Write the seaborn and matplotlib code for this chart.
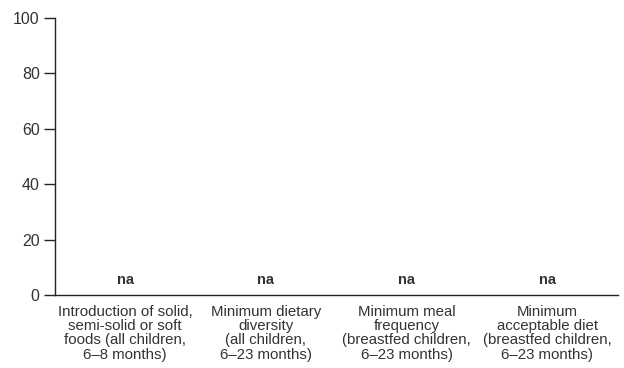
import numpy as np
import pandas as pd
import matplotlib
matplotlib.use("Agg")
import matplotlib.pyplot as plt
import seaborn as sns

categories = [
    "Introduction of solid,\nsemi-solid or soft\nfoods (all children,\n6\u20138 months)",
    "Minimum dietary\ndiversity\n(all children,\n6\u201323 months)",
    "Minimum meal\nfrequency\n(breastfed children,\n6\u201323 months)",
    "Minimum\nacceptable diet\n(breastfed children,\n6\u201323 months)",
]
values = [np.nan, np.nan, np.nan, np.nan]
y_ticks = [0, 20, 40, 60, 80, 100]

sns.set_style("white")
plt.rcParams["font.family"] = ["Liberation Sans", "DejaVu Sans"]
text_color = "#333333"

df = pd.DataFrame({"Indicator": categories, "Value": values})

fig, ax = plt.subplots(figsize=(6.24, 3.68), dpi=100)
fig.subplots_adjust(left=0.088, right=0.99, top=0.951, bottom=0.198)
sns.barplot(data=df, x="Indicator", y="Value", ax=ax, color="#1f77b4", order=categories)

for i, v in enumerate(values):
    if np.isnan(v):
        ax.text(i, 2.8, "na", ha="center", va="bottom", fontsize=10.5,
                fontweight="bold", color=text_color)

ax.set_xlim(-0.5, len(categories) - 0.5)
ax.set_ylim(0, 100)
ax.set_yticks(y_ticks)
ax.set_xlabel("")
ax.set_ylabel("")
sns.despine(ax=ax, top=True, right=True)
for side in ["left", "bottom"]:
    ax.spines[side].set_color("#222222")
    ax.spines[side].set_linewidth(1.0)
ax.tick_params(axis="y", length=8, width=1.0, color="#222222", labelsize=11.5,
               labelcolor=text_color, pad=3, left=True)
ax.tick_params(axis="x", length=0, labelsize=10.8, labelcolor=text_color, pad=7)
for lbl in ax.get_xticklabels():
    lbl.set_linespacing(1.02)

fig.savefig("out.png", dpi=100)
plt.close(fig)
